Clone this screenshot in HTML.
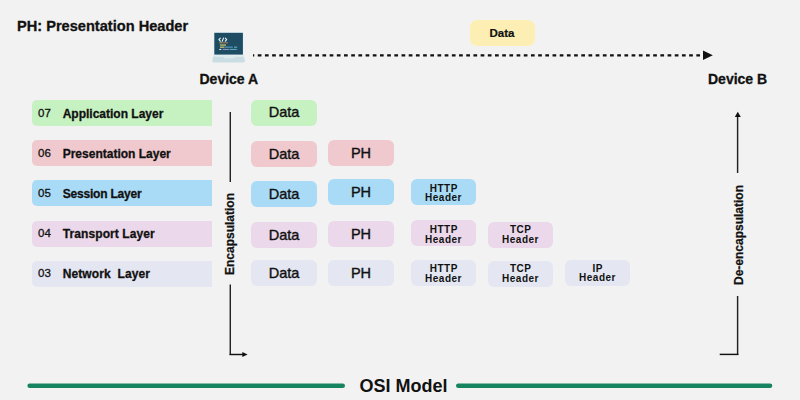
<!DOCTYPE html>
<html><head><meta charset="utf-8">
<style>
*{margin:0;padding:0;box-sizing:border-box}
html,body{width:800px;height:400px;overflow:hidden;background:#f2f2f2}
body{position:relative;font-family:"Liberation Sans",sans-serif;color:#111}
.a{position:absolute;white-space:nowrap}
.t{position:absolute;white-space:nowrap;line-height:1}
.bar{position:absolute;left:32px;width:180px;height:26px;border-radius:5px 0 0 5px}
.num{position:absolute;left:38px;font-size:11.5px;line-height:1;-webkit-text-stroke:0.3px #111}
.lab{position:absolute;left:62.7px;font-size:12px;font-weight:bold;line-height:1;-webkit-text-stroke:0.3px #111}
.box{position:absolute;width:66px;height:26px;border-radius:6px;display:flex;align-items:center;justify-content:center;font-size:14.5px;line-height:1;-webkit-text-stroke:0.4px #111}
.hb{position:absolute;width:65px;height:26px;border-radius:6px;font-size:10px;font-weight:bold;line-height:9.6px;letter-spacing:0.5px;text-align:center;padding-top:3px;text-indent:0.5px}
.g{background:#c6f1c1}
.p{background:#efc9cd}
.b{background:#a9dbf7}
.l{background:#ebd8ea}
.n{background:#e4e6f2}
</style></head><body>
<div class="t" style="left:17px;top:18.6px;font-size:14.6px;font-weight:bold;-webkit-text-stroke:0.3px #111">PH: Presentation Header</div>

<!-- laptop -->
<svg class="a" style="left:210px;top:30px" width="38" height="36" viewBox="0 0 38 36">
  <rect x="3.4" y="1.8" width="30.4" height="23.2" rx="0.8" fill="#e4f3f7"/>
  <rect x="4.3" y="2.8" width="28.6" height="21.8" fill="#1e4c63"/>
  <path d="M10.3 8.2 L8.9 9.7 L10.3 11.2 M12.2 11.3 L13.5 8.1 M15.3 8.2 L16.7 9.7 L15.3 11.2" stroke="#eef7fa" stroke-width="1.1" fill="none" stroke-linecap="round" stroke-linejoin="round"/>
  <rect x="9.3" y="12.2" width="3" height="1.1" fill="#b99a52"/>
  <rect x="12.6" y="12.2" width="5.4" height="1.1" fill="#a8745a"/>
  <rect x="10" y="14.5" width="6" height="1.1" fill="#e0cf6c"/>
  <rect x="10" y="16.6" width="4.5" height="1.1" fill="#e2d47a"/>
  <rect x="15" y="16.6" width="7.8" height="1.1" fill="#5a9fc2"/>
  <rect x="24" y="16.6" width="3.2" height="1.1" fill="#6aaecb"/>
  <rect x="9.3" y="18.9" width="2" height="1.1" fill="#d8e8ee"/>
  <rect x="12.8" y="18.9" width="6" height="1.1" fill="#8f90c0"/>
  <rect x="19.6" y="18.9" width="7.2" height="1.1" fill="#5aa6c6"/>
  <path d="M3.4 25.4 H33.8 L35 31 Q35 32.4 33.6 32.4 H3.6 Q2.2 32.4 2.2 31 Z" fill="#cadde2"/>
  <rect x="3.4" y="25.4" width="30.4" height="1.2" fill="#e6f1f4"/>
  <rect x="13.5" y="26.6" width="11" height="1.6" rx="0.6" fill="#dde9ed"/>
</svg>
<div class="t" style="left:199.5px;top:71.7px;font-size:14px;font-weight:bold;-webkit-text-stroke:0.3px #111">Device A</div>
<div class="t" style="left:708px;top:71.8px;font-size:14px;font-weight:bold;-webkit-text-stroke:0.3px #111">Device B</div>

<!-- dotted arrow -->
<svg class="a" style="left:0;top:0" width="800" height="400">
  <line x1="253" y1="55.3" x2="702" y2="55.3" stroke="#111" stroke-width="2.2" stroke-dasharray="3.7 3.49" stroke-dashoffset="2.45"/>
  <polygon points="703,50.6 712.8,55.3 703,60" fill="#111"/>
  <!-- encapsulation -->
  <line x1="230.3" y1="112" x2="230.3" y2="182" stroke="#222" stroke-width="1.45"/>
  <line x1="230.3" y1="284.5" x2="230.3" y2="355" stroke="#222" stroke-width="1.45"/>
  <line x1="229.6" y1="354.5" x2="244" y2="354.5" stroke="#111" stroke-width="1.45"/>
  <polygon points="242.3,352 247.6,354.5 242.3,357" fill="#111"/>
  <!-- de-encapsulation -->
  <line x1="737.6" y1="115" x2="737.6" y2="173" stroke="#222" stroke-width="1.45"/>
  <line x1="737.6" y1="296" x2="737.6" y2="355" stroke="#222" stroke-width="1.45"/>
  <polygon points="734.8,117 737.8,111.8 740.8,117" fill="#111"/>
  <line x1="719.7" y1="354.4" x2="738.4" y2="354.4" stroke="#111" stroke-width="1.45"/>
  <!-- OSI lines -->
  <line x1="29.7" y1="385.8" x2="342.7" y2="385.8" stroke="#168461" stroke-width="4.6" stroke-linecap="round"/>
  <line x1="458.3" y1="385.8" x2="770" y2="385.8" stroke="#168461" stroke-width="4.6" stroke-linecap="round"/>
</svg>

<div class="t" style="left:470px;top:19.5px;width:65px;height:26px;border-radius:7px;background:#fdefb3"></div>
<div class="t" style="left:489.5px;top:27.5px;font-size:11.5px;font-weight:bold;-webkit-text-stroke:0.2px #111">Data</div>

<!-- layer bars -->
<div class="bar g" style="top:100px"></div>
<div class="bar p" style="top:140px"></div>
<div class="bar b" style="top:180px"></div>
<div class="bar l" style="top:221px"></div>
<div class="bar n" style="top:261px"></div>

<div class="num" style="top:108px">07</div>
<div class="lab" style="top:108px">Application Layer</div>
<div class="num" style="top:148px">06</div>
<div class="lab" style="top:148px">Presentation Layer</div>
<div class="num" style="top:188px">05</div>
<div class="lab" style="top:188px;letter-spacing:-0.2px">Session Layer</div>
<div class="num" style="top:228px">04</div>
<div class="lab" style="top:228px;letter-spacing:0.1px">Transport Layer</div>
<div class="num" style="top:268px">03</div>
<div class="lab" style="top:268px;letter-spacing:0.1px">Network&nbsp; Layer</div>

<!-- rotated labels -->
<div class="t" style="left:230.3px;top:233.7px;font-size:12px;font-weight:bold;-webkit-text-stroke:0.25px #111;transform:translate(-50%,-50%) rotate(-90deg)">Encapsulation</div>
<div class="t" style="left:738.6px;top:234.5px;font-size:12px;font-weight:bold;-webkit-text-stroke:0.25px #111;transform:translate(-50%,-50%) rotate(-90deg)">De-encapsulation</div>

<!-- data boxes -->
<div class="box g" style="left:251px;top:100px"><span style="position:relative;top:-1px">Data</span></div>
<div class="box p" style="left:251px;top:141px">Data</div>
<div class="box p" style="left:328px;top:140px">PH</div>
<div class="box b" style="left:251px;top:181px">Data</div>
<div class="box b" style="left:328px;top:179px">PH</div>
<div class="hb b" style="left:411px;top:179px;padding-top:4.7px">HTTP<br>Header</div>
<div class="box l" style="left:251px;top:222px">Data</div>
<div class="box l" style="left:328px;top:221px">PH</div>
<div class="hb l" style="left:411px;top:220px;padding-top:5.2px">HTTP<br>Header</div>
<div class="hb l" style="left:488px;top:222px;padding-top:3.2px">TCP<br>Header</div>
<div class="box n" style="left:251px;top:260px">Data</div>
<div class="box n" style="left:328px;top:260px">PH</div>
<div class="hb n" style="left:411px;top:260px;padding-top:4.1px">HTTP<br>Header</div>
<div class="hb n" style="left:488px;top:261px;padding-top:3.1px">TCP<br>Header</div>
<div class="hb n" style="left:565px;top:260px;padding-top:3.7px">IP<br>Header</div>

<div class="t" style="left:359.5px;top:377px;font-size:18px;font-weight:bold">OSI Model</div>
</body></html>
